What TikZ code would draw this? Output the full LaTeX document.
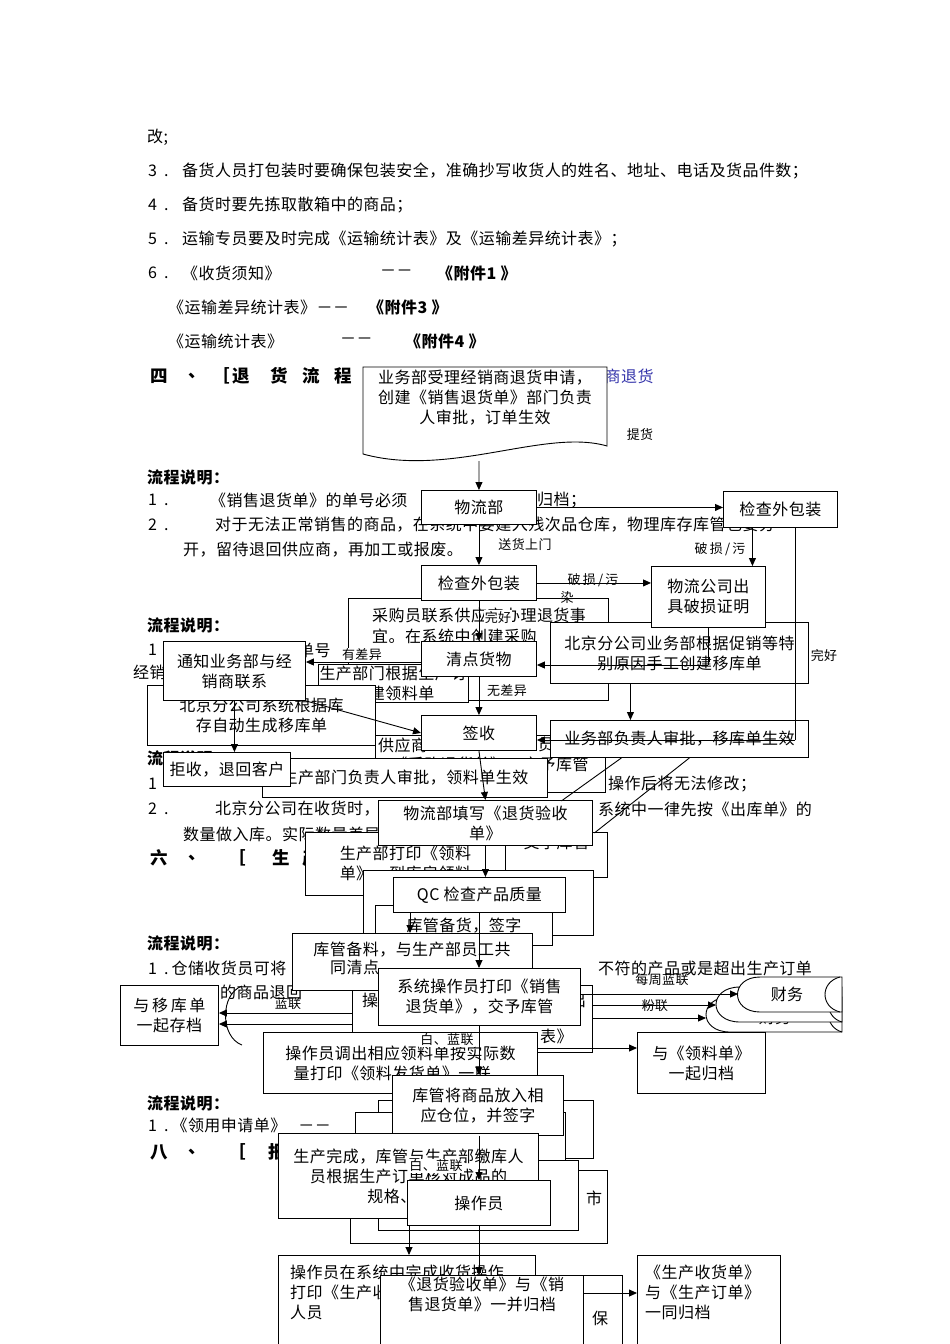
\documentclass[tikz,border=0pt]{standalone}
\usepackage{fontspec}
\setmainfont{Noto Sans CJK SC}[LetterSpace=3]
\usetikzlibrary{arrows.meta}
\newcommand\btf{\fontsize{16}{20}\selectfont}
\newcommand\ltf{\fontsize{13}{15}\selectfont}
\newcommand\hdf{\fontsize{17.5}{20}\selectfont\bfseries}
\definecolor{linkblue}{RGB}{51,51,170}
\begin{document}
\begin{tikzpicture}[x=1pt,y=-1pt,
  box/.style={draw, fill=white, line width=0.9pt, inner sep=1pt, align=center, font=\btf},
  arr/.style={line width=0.9pt, -{Triangle[length=8pt,width=7pt]}},
  ln/.style={line width=0.9pt},
  lbl/.style={font=\ltf, inner sep=1pt},
  wlbl/.style={font=\ltf, inner sep=1pt, fill=white},
  tx/.style={font=\btf, anchor=west, inner sep=0pt},
  hd/.style={font=\hdf, anchor=west, inner sep=0pt},
  bx/.style args={#1/#2}{box, minimum width=#1, minimum height=#2, anchor=north west},
]
\useasboundingbox (0,0) rectangle (950,1344);

% ---------------- body text ----------------
\node[tx] (t0) at (147,137) {改;};
\node[tx] (n3) at (148,171) {3\hspace{7pt}.};
\node[tx] (t3) at (182,171) {备货人员打包装时要确保包装安全，准确抄写收货人的姓名、地址、电话及货品件数；};
\node[tx] (n4) at (148,205) {4\hspace{7pt}.};
\node[tx] (t4) at (182,205) {备货时要先拣取散箱中的商品；};
\node[tx] (n5) at (148,239) {5\hspace{7pt}.};
\node[tx] (t5) at (182,239) {运输专员要及时完成《运输统计表》及《运输差异统计表》；};
\node[tx] (n6) at (148,273) {6\hspace{7pt}.};
\node[tx] (t6) at (182,273) {《收货须知》};
\node[tx] (d6) at (380,273) {－－};
\node[tx,font=\btf\bfseries] (a6) at (437,273) {《附件1 》};
\node[tx] (t7) at (168,307) {《运输差异统计表》－－};
\node[tx,font=\btf\bfseries] (a7) at (368,307) {《附件3 》};
\node[tx] (t8) at (168,341) {《运输统计表》};
\node[tx] (d8) at (340,341) {－－};
\node[tx,font=\btf\bfseries] (a8) at (405,341) {《附件4 》};
\foreach \xx/\cc [count=\i] in {150/四,188/、,212/［,232/退,270/货,302/流,334/程}
  \node[hd] (h4\i) at (\xx,376) {\cc};
\node[tx,text=linkblue] (blu) at (588,376) {销商退货};

\node[hd,font=\btf\bfseries] (s1) at (147,477) {流程说明：};
\node[tx] (p1n) at (148,500) {1\hspace{7pt}.};
\node[tx] (p1) at (210,500) {《销售退货单》的单号必须};
\node[tx] (p1b) at (537,500) {归档；};
\node[tx] (p2n) at (148,525) {2\hspace{7pt}.};
\node[tx] (p2) at (215,525) {对于无法正常销售的商品，在系统中要建入残次品仓库，物理库存库管也要分};
\node[tx] (p3) at (183,550) {开，留待退回供应商，再加工或报废。};

\node[hd,font=\btf\bfseries] (s2) at (147,625) {流程说明：};
\node[tx] (q1n) at (148,650) {1};
\node[tx] (q1) at (298,650) {单号};
\node[tx] (q0) at (133,672) {经销};

\node[hd,font=\btf\bfseries] (s3) at (147,758) {流程说明：};
\node[tx] (r1n) at (148,784) {1};
\node[tx] (r1) at (608,784) {操作后将无法修改；};
\node[tx] (r2n) at (148,809) {2\hspace{7pt}.};
\node[tx] (r2) at (215,809) {北京分公司在收货时，};
\node[tx] (r2b) at (598,809) {系统中一律先按《出库单》的};
\node[tx] (r3) at (183,834) {数量做入库。实际数量差异};
\foreach \xx/\cc [count=\i] in {150/六,188/、,228/［,272/生,302/产}
  \node[hd] (h6\i) at (\xx,858) {\cc};

\node[hd,font=\btf\bfseries] (s4) at (147,943) {流程说明：};
\node[tx] (u1) at (148,968) {1\hspace{7pt}.\hspace{3pt}仓储收货员可将};
\node[tx] (u1b) at (598,968) {不符的产品或是超出生产订单};
\node[tx] (u2) at (220,992) {的商品退回};

\node[hd,font=\btf\bfseries] (s5) at (147,1103) {流程说明：};
\node[tx] (v1) at (148,1125) {1\hspace{7pt}.\hspace{3pt}《领用申请单》\hspace{12pt}－－};
\foreach \xx/\cc [count=\i] in {150/八,188/、,228/［,268/报}
  \node[hd] (h8\i) at (\xx,1152) {\cc};

% ---------------- background boxes ----------------
\node[bx=260/102] (b1) at (348,598) {};
\node[font=\btf,anchor=west,inner sep=0pt] (b1t1) at (372,615) {采购员联系供应商办理退货事};
\node[font=\btf,anchor=west,inner sep=0pt] (b1t2) at (372,636) {宜。在系统中创建采购};
\node[bx=150/38] (b2) at (318,664) {生产部门根据生产订\\创建领料单};
\node[bx=228/60] (b3) at (147,685) {北京分公司系统根据库\\存自动生成移库单};
\node[bx=230/57] (b4) at (375,735) {};
\node[font=\btf,anchor=west,inner sep=0pt] (b4t1) at (378,745) {供应商};
\node[font=\btf,anchor=west,inner sep=0pt] (b4t1b) at (538,745) {员};
\node[font=\btf,inner sep=0pt] (b4t2) at (490,765) {《采购退货单》，交予库管};
\node[bx=285/39] (b5) at (262,758) {生产部门负责人审批，领料单生效};

\node[bx=200/63] (b6) at (305,832) {生产部打印《领料\\单》，到库房领料};
\node[bx=102/45] (b7) at (505,832) {交予库管\\[6pt]};
\node[bx=230/65] (b8) at (363,870) {};
\node[bx=177/40] (b9) at (375,905) {库管备货，签字};

\node[bx=240/67] (b10) at (352,985) {};
\node[tx] (b10a) at (362,1000) {操};
\node[tx] (b10b) at (570,1000) {出};
\node[tx] (b10c) at (540,1036) {表》};
\node[bx=215/58] (b14) at (378,1100) {};
\node[bx=210/70] (b15) at (355,1112) {};
\node[bx=257/73] (b12) at (350,1170) {};
\node[tx] (b12t) at (586,1198) {市};
\node[bx=200/70] (b13) at (378,1160) {};
\node[bx=122/69] (b16) at (500,1275) {};
\node[tx] (b16t) at (592,1318) {保};
\draw[ln] (b16.north) ++(95,0) coordinate (b16v) -- (b16v |- b16.south);

% ---------------- tapes (财务) ----------------
\draw[ln, fill=white] (730,997) -- (842,997) -- (842,1032) -- (730,1032) .. controls (698,1032) and (698,997) .. (730,997);
\draw[ln] (842,997) .. controls (824,1002) and (824,1027) .. (842,1032);
\node[font=\btf] (fin3) at (775,1017) {财务};
\draw[ln, fill=white] (740,987) -- (842,987) -- (842,1022) -- (740,1022) .. controls (708,1022) and (708,987) .. (740,987);
\draw[ln] (842,987) .. controls (824,992) and (824,1017) .. (842,1022);
\draw[ln, fill=white] (760,977) -- (842,977) -- (842,1012) -- (760,1012) .. controls (730,1012) and (730,977) .. (760,977);
\draw[ln] (840,977) .. controls (820,982) and (820,1007) .. (840,1012);
\node[font=\btf] (fin) at (787,994) {财务};
\coordinate (fin1w) at (738,994);
\coordinate (fin2w) at (716,1005);
\coordinate (fin3w) at (706,1018);
\draw[ln] (242,986) .. controls (220,994) and (220,1037) .. (242,1045);

% ---------------- foreground boxes ----------------
\draw[ln, fill=white] (363,367) -- (607,367) -- (607,446) .. controls (545,428) and (450,478) .. (363,454) -- cycle;
\node[font=\btf, align=center, inner sep=0pt] (doc) at (485,398) {业务部受理经销商退货申请，\\创建《销售退货单》部门负责\\人审批，订单生效};
\coordinate (docb) at (479,461);
\node[lbl] (tihuo) at (640,435) {提货};

\node[bx=115/34] (wlb) at (421,490) {物流部};
\node[bx=114/36] (jcR) at (723,491) {检查外包装};
\node[bx=115/35] (jcL) at (421,565) {检查外包装};
\node[bx=258/61] (bjyw) at (550,622) {北京分公司业务部根据促销等特\\别原因手工创建移库单};
\node[bx=114/61] (wlgs) at (651,566) {物流公司出\\具破损证明};
\node[bx=115/35] (qd) at (421,641) {清点货物};
\node[bx=142/59] (tz) at (163,641) {通知业务部与经\\销商联系};
\node[bx=115/35] (qs) at (421,715) {签收};
\node[bx=258/37] (ywsp) at (550,720) {业务部负责人审批，移库单生效};
\node[bx=127/34] (jsh) at (163,752) {拒收，退回客户};
\node[bx=214/45] (wltx) at (378,800) {物流部填写《退货验收\\单》};
\node[bx=172/35] (qc) at (393,877) {QC 检查产品质量};
\node[bx=240/57] (kgbl) at (292,933) {};
\node[font=\btf,inner sep=0pt] (kgbl1) at (412,950) {库管备料，与生产部员工共};
\node[font=\btf,anchor=west,inner sep=0pt] (kgbl2) at (330,968) {同清点，};
\node[bx=202/57] (xtcz) at (378,968) {系统操作员打印《销售\\退货单》，交予库管};
\node[bx=98/60] (ykd) at (120,985) {与\,移\,库\,单\\一起存档};
\node[bx=274/61] (czdc) at (263,1032) {操作员调出相应领料单按实际数\\量打印《领料发货单》一联。};
\node[bx=128/61] (lld) at (637,1032) {与《领料单》\\一起归档};
\node[bx=171/60] (kgfr) at (392,1075) {库管将商品放入相\\应仓位，并签字};
\node[bx=260/85] (scwc) at (278,1133) {生产完成，库管与生产部缴库人\\员根据生产订单核对成品的\\规格、数量};
\node[bx=143/45] (czy) at (407,1180) {操作员};
\node[bx=257/89] (czxt) at (278,1255) {};
\node[font=\btf,anchor=west,inner sep=0pt,align=left] (czxt1) at (290,1292) {操作员在系统中完成收货操作\\打印《生产收货单》\\人员};
\node[bx=203/69] (thys) at (380,1275) {《退货验收单》与《销\\售退货单》一并归档\\[14pt]};
\node[bx=143/89] (scsh) at (637,1255) {};
\node[font=\btf,anchor=west,inner sep=0pt,align=left] (scsh1) at (645,1292) {《生产收货单》\\与《生产订单》\\一同归档};

% ---------------- connectors ----------------
\draw[arr] (docb) -- (wlb.north);
\draw[arr] (wlb.east) -- (jcR.west |- wlb.east);
\draw[arr] (wlb.south) -- (jcL.north);
\node[lbl] (shsm) at (525,545) {送货上门};
\draw[arr] (jcL.east) -- (wlgs.west |- jcL.east);
\node[lbl] (ps1) at (593,580) {破\,损\,/\,污};
\node[lbl] (ps1b) at (567,598) {染};
\coordinate (r1) at ([xshift=-28pt]jcR.south);
\draw[arr] (r1) -- (r1 |- wlgs.north);
\node[lbl] (ps2) at (720,549) {破\,损\,/\,污};
\coordinate (r2) at ([xshift=15pt]jcR.south);
\coordinate (r2b) at (r2 |- 0,740);
\draw[ln] (r2) -- (r2b);
\draw[arr] (r2b) -- (qs.east |- r2b);
\node[lbl] (wh2) at (824,655) {完好};
\coordinate (g1) at ([xshift=57pt]wlgs.south west);
\coordinate (g1b) at (g1 |- 0,665);
\draw[ln] (g1) -- (g1b);
\draw[arr] (g1b) -- (qd.east |- g1b);
\coordinate (g2) at ([xshift=-49pt]bjyw.south);
\draw[arr] (g2) -- (g2 |- ywsp.north);
\draw[arr] (jcL.south) -- (qd.north);
\node[wlbl] (wh1) at (498,617) {完好};
\draw[arr] (qd.west |- 0,662) -- (tz.east |- 0,662);
\node[wlbl] (ycy) at (362,655) {有差异};
\draw[arr] (qd.south) -- (qs.north);
\node[lbl] (wcy) at (507,691) {无差异};
\draw[arr] (tz.south) -- (jsh.north -| tz.south);
\draw[arr] (tz.south east) -- (qs.west);
\draw[arr] (qs.south) -- (wltx.north);
\draw[arr] (wltx.south) -- (qc.north -| wltx.south);
\draw[arr] (qc.south -| 410,0) -- (kgbl.north -| 410,0);
\draw[arr] (qc.south -| 479,0) -- (xtcz.north -| 479,0);
\draw[ln] (ywsp.south) ++(-58,0) -- ++(-60,43);
\draw[ln] (ywsp.south) ++(10,0) -- ++(-95,75);
\draw[arr] (xtcz.south -| 479,0) -- (kgfr.north -| 479,0);
\node[wlbl] (bl1) at (447,1040) {白、蓝联};
\draw[arr] (xtcz.east |- 0,994) -- (fin1w);
\node[lbl] (mzl) at (662,980) {每周蓝联};
\draw[arr] (b10.east |- 0,1005) -- (fin2w);
\draw[arr] (b10.east |- 0,1018) -- (fin3w);
\node[lbl] (fl) at (655,1006) {粉联};
\draw[arr] (czdc.east |- 0,1048) -- (lld.west |- 0,1048);
\draw[arr] (b10.west |- 0,1013) -- (ykd.east |- 0,1013);
\draw[arr] (b10.west |- 0,1024) -- (ykd.east |- 0,1024);
\node[lbl] (lanl) at (288,1004) {蓝联};
\draw[arr] (kgfr.south -| 479,0) -- (czy.north -| 479,0);
\node[wlbl] (bl2) at (436,1166) {白、蓝联};
\draw[arr] (czy.south -| 479,0) -- (thys.north -| 479,0);
\draw[arr] (czy.south -| 409,0) -- (czxt.north -| 409,0);
\draw[arr] (thys.east |- 0,1293) -- (scsh.west |- 0,1293);
\end{tikzpicture}
\end{document}
